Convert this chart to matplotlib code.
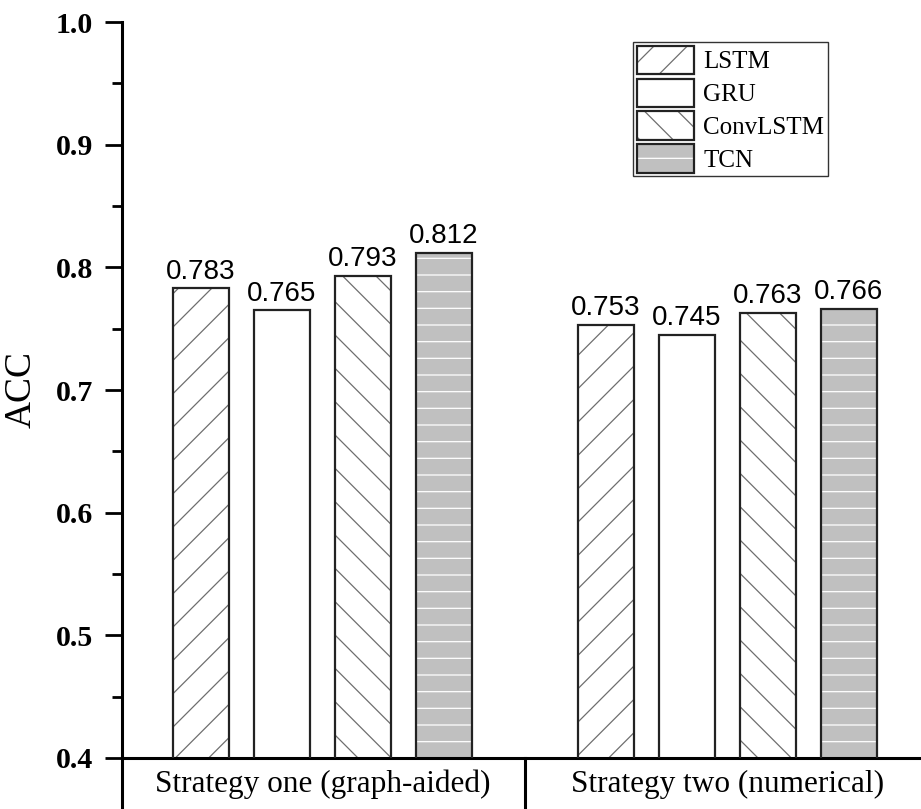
import numpy as np
import matplotlib.pyplot as plt
from matplotlib.patches import Patch
from matplotlib.legend_handler import HandlerTuple
import matplotlib.transforms as mtransforms

# accuracy of each model under the two strategies
strategies = ['Strategy one (graph-aided)', 'Strategy two (numerical)']
models = ['LSTM', 'GRU', 'ConvLSTM', 'TCN']
acc_lstm = [0.783, 0.753]
acc_gru = [0.765, 0.745]
acc_convlstm = [0.793, 0.763]
acc_tcn = [0.812, 0.766]

plt.rcParams['hatch.linewidth'] = 0.9

fig = plt.figure(figsize=(9.21, 8.09), dpi=100)
ax = fig.add_axes([122 / 921, 51 / 809, 799 / 921, 736 / 809])

x = np.arange(len(strategies))
width = 0.138
offsets = [-0.3, -0.1, 0.1, 0.3]
# fill, hatch, hatch colour for each model
styles = [('white', '/', '#6e6e6e'),
          ('white', '', 'none'),
          ('white', '\\', '#6e6e6e'),
          ('#c0c0c0', '-', 'white')]
values = [acc_lstm, acc_gru, acc_convlstm, acc_tcn]

handles = []
for vals, off, (fc, hatch, hc), name in zip(values, offsets, styles, models):
    # hatched fill first, then the dark outline on top
    ax.bar(x + off, vals, width, bottom=0, color=fc, hatch=hatch, edgecolor=hc, linewidth=0, zorder=2)
    ax.bar(x + off, vals, width, bottom=0, fill=False, edgecolor='#222222', linewidth=1.6, zorder=3)
    for xi, v in zip(x, vals):
        ax.text(xi + off, v + 0.003, f'{v:.3f}', ha='center', va='bottom',
                fontsize=20, family='Liberation Sans', zorder=4)
    h_fill = Patch(facecolor=fc, hatch=hatch, edgecolor=hc, linewidth=0)
    h_edge = Patch(fill=False, edgecolor='#222222', linewidth=1.6)
    handles.append((h_fill, h_edge))

ax.set_ylim(0.4, 1.0)
ax.set_xlim(-0.495, 1.478)
ax.set_yticks(np.arange(0.4, 1.01, 0.1))
ax.set_yticklabels(['0.4', '0.5', '0.6', '0.7', '0.8', '0.9', '1.0'])
ax.set_yticks(np.arange(0.45, 1.0, 0.1), minor=True)
for lab in ax.get_yticklabels():
    lab.set_fontfamily('Liberation Serif')
    lab.set_fontweight('bold')
    lab.set_fontsize(21.5)
ax.tick_params(axis='y', which='major', length=12, width=2, direction='out', pad=9)
ax.tick_params(axis='y', which='minor', length=7, width=2, direction='out')
ax.set_xticks([])

ax.spines['top'].set_visible(False)
ax.spines['right'].set_visible(False)
ax.spines['left'].set_linewidth(2.2)
ax.spines['bottom'].set_linewidth(2.2)

ax.set_ylabel('ACC', fontsize=27, family='Liberation Serif', labelpad=12)

# category boxes under the axis
trans = mtransforms.blended_transform_factory(ax.transData, ax.transAxes)
ax.plot([-0.495, -0.495], [0, -0.08], transform=trans, color='black', lw=2.2, clip_on=False)
ax.plot([0.5, 0.5], [0, -0.08], transform=trans, color='black', lw=2.2, clip_on=False)
for xi, name in zip(x, strategies):
    ax.text(xi, -0.036, name, transform=trans, ha='center', va='center',
            fontsize=22.5, family='Liberation Serif')

leg = ax.legend(handles, models, handler_map={tuple: HandlerTuple(ndivide=1)},
                loc='upper left', bbox_to_anchor=((633 - 122) / 799, 1 - 20 / 736),
                borderaxespad=0,
                prop={'family': 'Liberation Serif', 'size': 18}, handlelength=2.3, handleheight=1.38,
                handletextpad=0.35, labelspacing=0.17, borderpad=0.15, fancybox=False,
                edgecolor='#333333', framealpha=1)
leg.get_frame().set_linewidth(1.0)

fig.savefig('out.png', dpi=100)
